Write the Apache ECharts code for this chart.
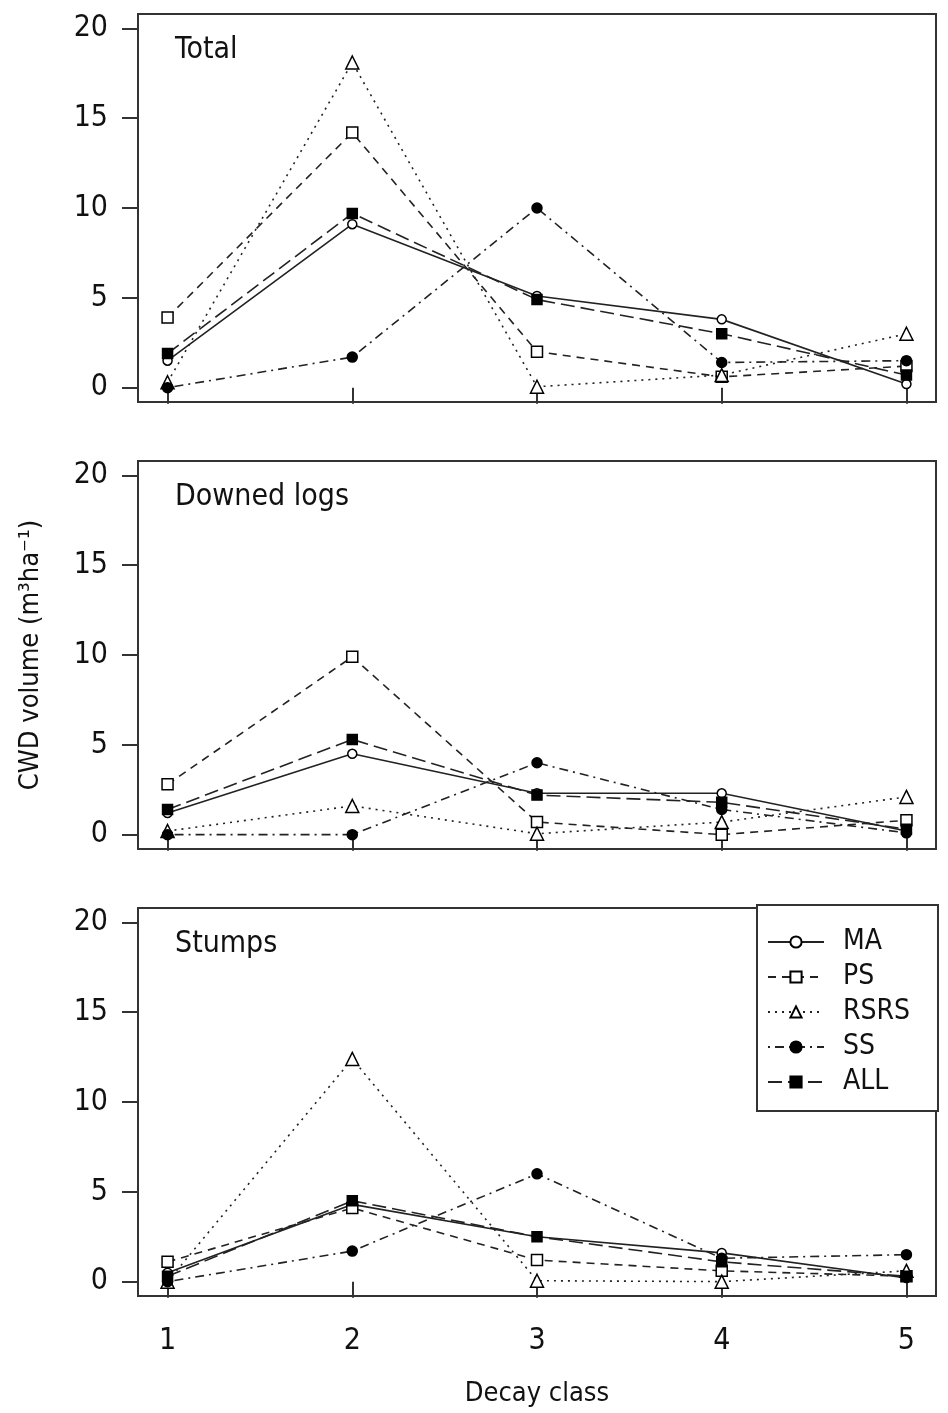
<!DOCTYPE html>
<html>
<head>
<meta charset="utf-8">
<script src="https://cdn.jsdelivr.net/npm/echarts@6/dist/echarts.min.js"></script>
<style>
  html, body { margin: 0; padding: 0; background: #fff; }
  #main { width: 948px; height: 1413px; }
</style>
</head>
<body>
<div id="main"></div>
<script>
var decayClass = [1, 2, 3, 4, 5];
var yTicks = [0, 5, 10, 15, 20];
var panelNames = ['Total', 'Downed logs', 'Stumps'];
var groups = ['MA', 'PS', 'RSRS', 'SS', 'ALL'];

// Total
var totalMA   = [1.5, 9.1, 5.1, 3.8, 0.2];
var totalPS   = [3.9, 14.2, 2.0, 0.6, 1.2];
var totalRSRS = [0.3, 18.1, 0.05, 0.7, 3.0];
var totalSS   = [0, 1.7, 10.0, 1.4, 1.5];
var totalALL  = [1.9, 9.7, 4.9, 3.0, 0.7];

// Downed logs
var logsMA   = [1.2, 4.5, 2.3, 2.3, 0.2];
var logsPS   = [2.8, 9.9, 0.7, 0.0, 0.8];
var logsRSRS = [0.2, 1.6, 0.05, 0.7, 2.1];
var logsSS   = [0, 0, 4.0, 1.4, 0.1];
var logsALL  = [1.4, 5.3, 2.2, 1.8, 0.3];

// Stumps
var stumpsMA   = [0.5, 4.3, 2.5, 1.6, 0.2];
var stumpsPS   = [1.1, 4.1, 1.2, 0.6, 0.3];
var stumpsRSRS = [0, 12.4, 0.05, 0, 0.6];
var stumpsSS   = [0, 1.7, 6.0, 1.3, 1.5];
var stumpsALL  = [0.3, 4.5, 2.5, 1.1, 0.3];

var panelData = [
    [totalMA, totalPS, totalRSRS, totalSS, totalALL],
    [logsMA, logsPS, logsRSRS, logsSS, logsALL],
    [stumpsMA, stumpsPS, stumpsRSRS, stumpsSS, stumpsALL]
];

var font = "'Liberation Sans Narrow', 'DejaVu Sans Condensed', 'Liberation Sans', sans-serif";
var ink = '#222';

// how each group is drawn (R style lty / pch)
var looks = {
    MA:   { symbol: 'circle',   size: 9,  fill: '#fff', dash: 'solid' },
    PS:   { symbol: 'rect',     size: 11, fill: '#fff', dash: [8, 6] },
    RSRS: { symbol: 'triangle', size: 13, fill: '#fff', dash: [2, 5] },
    SS:   { symbol: 'circle',   size: 10, fill: '#000', dash: [2, 5, 9, 5] },
    ALL:  { symbol: 'rect',     size: 10, fill: '#000', dash: [14, 6] }
};

var gridTops = [14, 461, 908];
var grids = [], xAxes = [], yAxes = [], titles = [], series = [];

gridTops.forEach(function (top, p) {
    grids.push({
        left: 138, top: top, width: 798, height: 388,
        show: true, borderColor: '#333', borderWidth: 2,
        outerBoundsMode: 'none',
        containLabel: false
    });
    xAxes.push({
        type: 'value', gridIndex: p, min: 0.84, max: 5.16,
        splitLine: { show: false },
        axisLine: { show: false },
        axisTick: { show: true, customValues: decayClass, length: 16,
            lineStyle: { color: '#333', width: 2 } },
        axisLabel: { show: p === 2, customValues: decayClass, margin: 30,
            fontSize: 30, fontFamily: font, color: '#111' },
        name: p === 2 ? 'Decay class' : '',
        nameLocation: 'middle', nameGap: 84,
        nameTextStyle: { fontSize: 27, fontFamily: font, color: '#111' }
    });
    yAxes.push({
        type: 'value', gridIndex: p, min: -0.8, max: 20.8,
        splitLine: { show: false },
        axisLine: { show: false },
        axisTick: { show: true, customValues: yTicks, length: 16,
            lineStyle: { color: '#333', width: 2 } },
        axisLabel: { customValues: yTicks, margin: 30,
            fontSize: 30, fontFamily: font, color: '#111' },
        name: p === 1 ? 'CWD volume (m³ha⁻¹)' : '',
        nameLocation: 'middle', nameGap: 94,
        nameTextStyle: { fontSize: 27, fontFamily: font, color: '#111' }
    });
    titles.push({
        text: panelNames[p], left: 170, top: top + 16,
        textStyle: { fontSize: 30, fontWeight: 'normal', fontFamily: font, color: '#111' }
    });
    groups.forEach(function (g, k) {
        var look = looks[g];
        series.push({
            name: g,
            type: 'line',
            xAxisIndex: p, yAxisIndex: p,
            data: decayClass.map(function (d, i) { return [d, panelData[p][k][i]]; }),
            symbol: look.symbol,
            symbolSize: look.size,
            showAllSymbol: true,
            animation: false,
            lineStyle: { color: ink, width: 1.6, type: look.dash },
            itemStyle: { color: look.fill, borderColor: '#000', borderWidth: 1.5 },
            z: 2
        });
    });
});

var myChart = echarts.init(document.getElementById('main'));
myChart.setOption({
    animation: false,
    title: titles,
    legend: {
        data: groups,
        orient: 'vertical',
        left: 757, top: 905,
        padding: [22, 28, 14, 10],
        itemWidth: 56, itemHeight: 14, itemGap: 5,
        selectedMode: false,
        backgroundColor: '#fff',
        borderColor: '#333', borderWidth: 2,
        textStyle: { fontSize: 28, lineHeight: 30, fontFamily: font, color: '#111',
            padding: [0, 0, 0, 14] }
    },
    grid: grids,
    xAxis: xAxes,
    yAxis: yAxes,
    series: series
});
</script>
</body>
</html>
